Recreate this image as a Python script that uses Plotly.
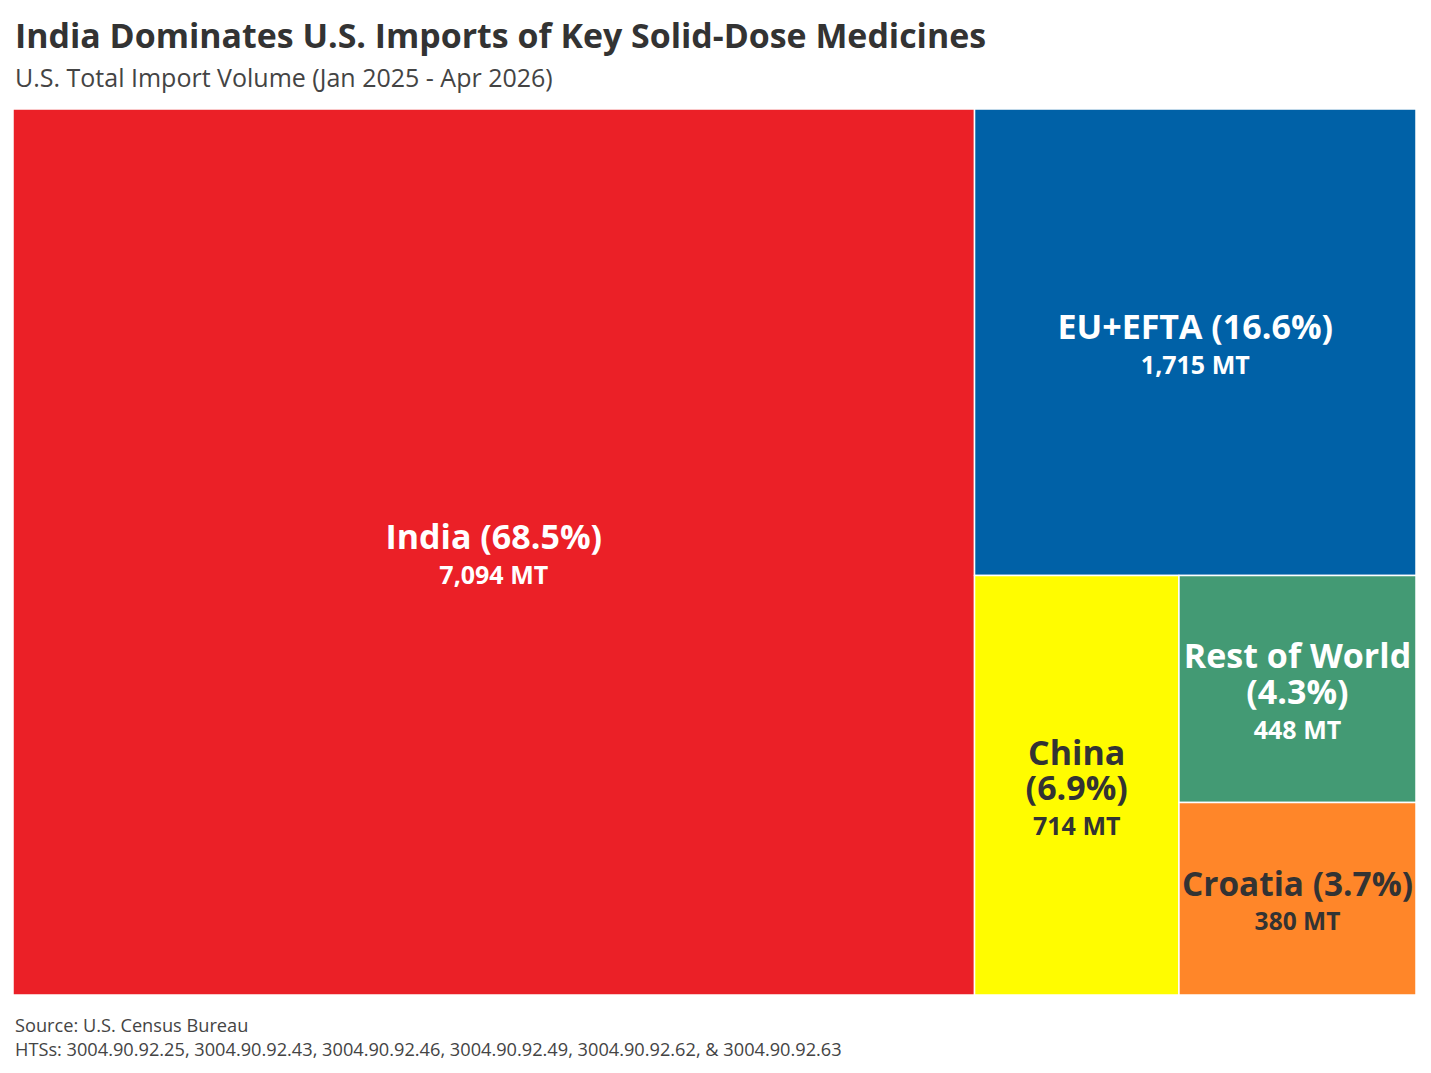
import plotly.graph_objects as go

# data
regions = ["India", "EU+EFTA", "China", "Rest of World", "Croatia"]
volume_mt = [7094, 1715, 714, 448, 380]
share_pct = [68.5, 16.6, 6.9, 4.3, 3.7]
tile_names = ["India (68.5%)", "EU+EFTA (16.6%)", "China<br>(6.9%)",
              "Rest of World<br>(4.3%)", "Croatia (3.7%)"]

colors = ["#EB2027", "#0061A7", "#FFFC00", "#439A74", "#FF8629"]
text_colors = ["white", "white", "#333333", "white", "#333333"]

# label line bigger than the base font, value line smaller (base size sets line spacing)
texts = []
for n, v in zip(tile_names, volume_mt):
    lines = n.split("<br>")
    big = "<br>".join(f"<b><span style='font-size:34px'>{ln}</span></b>" for ln in lines)
    texts.append(f"{big}<br><b><span style='font-size:25px'>{v:,} MT</span></b>")

FONT = "Open Sans"

fig = go.Figure(
    go.Treemap(
        labels=regions,
        parents=[""] * len(regions),
        values=volume_mt,
        text=texts,
        texttemplate="%{text}",
        textposition="middle center",
        textfont=dict(family=FONT, size=27, color=text_colors),
        marker=dict(colors=colors, line=dict(color="white", width=1.5),
                    pad=dict(t=0, l=0, r=0, b=0)),
        tiling=dict(packing="squarify", pad=0),
        pathbar=dict(visible=False),
        sort=True,
        hoverinfo="label+value",
    )
)

# page body adds ~8px offset, so margins are shifted to compensate
fig.update_layout(
    width=1431,
    height=1073,
    paper_bgcolor="white",
    margin=dict(l=5, r=23, t=101, b=86),
    annotations=[
        dict(
            text="<b>India Dominates U.S. Imports of Key Solid-Dose Medicines</b>",
            xref="paper", yref="paper",
            x=0, y=1.0 + 74 / 886,
            xanchor="left", yanchor="middle",
            showarrow=False,
            font=dict(family=FONT, size=33.9, color="#333333"),
        ),
        dict(
            text="U.S. Total Import Volume (Jan 2025 - Apr 2026)",
            xref="paper", yref="paper",
            x=0, y=1.0 + 32 / 886,
            xanchor="left", yanchor="middle",
            showarrow=False,
            font=dict(family=FONT, size=25, color="#444444"),
        ),
        dict(
            text="Source: U.S. Census Bureau<br>HTSs: 3004.90.92.25, 3004.90.92.43, 3004.90.92.46, "
            "3004.90.92.49, 3004.90.92.62, & 3004.90.92.63",
            xref="paper", yref="paper",
            x=0, y=-16 / 886,
            xanchor="left", yanchor="top",
            align="left",
            showarrow=False,
            font=dict(family=FONT, size=18.2, color="#444444"),
        ),
    ],
)

fig.write_html("out.html")
